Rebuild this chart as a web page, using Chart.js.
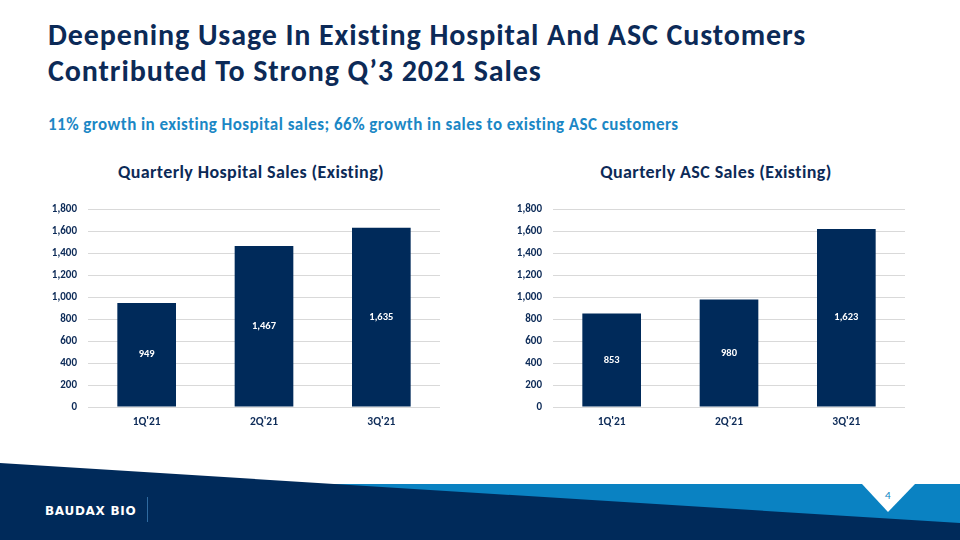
<!DOCTYPE html>
<html>
<head>
<meta charset="utf-8">
<script src="https://cdn.jsdelivr.net/npm/chart.js@4.4.0/dist/chart.umd.min.js"></script>
<style>
  body { margin: 0; width: 960px; height: 540px; overflow: hidden; background: #fff; position: relative;
         font-family: Carlito, Lato, "Open Sans", sans-serif; font-variant-ligatures: none; font-feature-settings: "liga" 0; }
  .title { position: absolute; left: 48px; top: 17px; font-size: 30px; line-height: 36px; letter-spacing: 0.9px; font-weight: 700; color: #0c2a57; white-space: nowrap; }
  .sub { position: absolute; left: 48px; top: 114px; font-size: 17px; letter-spacing: 0.45px; font-weight: 700; color: #1b87c5; white-space: nowrap; }
  .ctitle { position: absolute; top: 161px; font-size: 18px; letter-spacing: 0.4px; font-weight: 700; color: #0c2a57; text-align: center; width: 400px; }
  .wrap { position: absolute; top: 192px; width: 430px; height: 246px; }
  #footer { position: absolute; left: 0; top: 0; }
</style>
</head>
<body>
<svg id="footer" width="960" height="540">
  <rect x="0" y="484" width="960" height="56" fill="#0a82c2"/>
  <polygon points="862,484 915,484 888,512" fill="#fff"/>
  <polygon points="0,463 960,523 960,540 0,540" fill="#002a5a"/>
  <line x1="147.5" y1="497" x2="147.5" y2="522" stroke="#2f6aa0" stroke-width="1"/>
  <text x="45" y="515" fill="#fff" font-family="DejaVu Sans" font-weight="700" font-size="12" letter-spacing="0.7">BAUDAX BIO</text>
  <text x="888" y="499" fill="#0a82c2" font-family="Lato, sans-serif" font-size="10" text-anchor="middle">4</text>
</svg>

<div class="title">Deepening Usage In Existing Hospital And ASC Customers<br>Contributed To Strong Q’3 2021 Sales</div>
<div class="sub">11% growth in existing Hospital sales; 66% growth in sales to existing ASC customers</div>

<div class="ctitle" style="left:51px">Quarterly Hospital Sales (Existing)</div>
<div class="ctitle" style="left:516px">Quarterly ASC Sales (Existing)</div>

<div class="wrap" style="left:20px"><canvas id="hospChart"></canvas></div>
<div class="wrap" style="left:485px"><canvas id="ascChart"></canvas></div>

<script>
// Chart data
const quarters = ["1Q'21", "2Q'21", "3Q'21"];
const hospitalSales = [949, 1467, 1635];
const ascSales = [853, 980, 1623];
const yMax = 1800;
const yStep = 200;

const navy = '#002a5a';
const textNavy = '#0c2a57';
const fontFamily = 'Carlito, Lato, "Open Sans", sans-serif';

// draws the value in the middle of each bar
const barLabels = {
    id: 'barLabels',
    afterDatasetsDraw(chart) {
        const ctx = chart.ctx;
        const meta = chart.getDatasetMeta(0);
        const data = chart.data.datasets[0].data;
        ctx.save();
        ctx.fillStyle = '#ffffff';
        ctx.font = 'bold 10.5px ' + fontFamily;
        ctx.textAlign = 'center';
        ctx.textBaseline = 'middle';
        meta.data.forEach((bar, i) => {
            const mid = (bar.y + bar.base) / 2;
            ctx.fillText(data[i].toLocaleString('en-US'), bar.x, mid);
        });
        ctx.restore();
    }
};

function makeChart(id, values) {
    const ctx = document.getElementById(id).getContext('2d');
    return new Chart(ctx, {
        type: 'bar',
        data: {
            labels: quarters,
            datasets: [{
                data: values,
                backgroundColor: navy,
                borderWidth: 0,
                categoryPercentage: 1,
                barPercentage: 0.5
            }]
        },
        options: {
            responsive: true,
            maintainAspectRatio: false,
            animation: false,
            layout: { padding: { left: 8, right: 10, top: 10, bottom: 0 } },
            plugins: {
                legend: { display: false },
                tooltip: { enabled: false }
            },
            scales: {
                y: {
                    min: 0,
                    max: yMax,
                    afterFit: s => { s.width = 60; },
                    border: { display: false },
                    grid: { color: '#d9d9d9', drawTicks: false },
                    ticks: {
                        stepSize: yStep,
                        padding: 11,
                        color: textNavy,
                        font: { family: fontFamily, size: 11, weight: 'bold' },
                        callback: v => v.toLocaleString('en-US')
                    }
                },
                x: {
                    afterFit: s => { s.height = 31; },
                    border: { display: false },
                    grid: { display: false, drawTicks: false },
                    ticks: {
                        padding: 8,
                        color: textNavy,
                        font: { family: fontFamily, size: 11.5, weight: 'bold' }
                    }
                }
            }
        },
        plugins: [barLabels]
    });
}

makeChart('hospChart', hospitalSales);
makeChart('ascChart', ascSales);
</script>
</body>
</html>
